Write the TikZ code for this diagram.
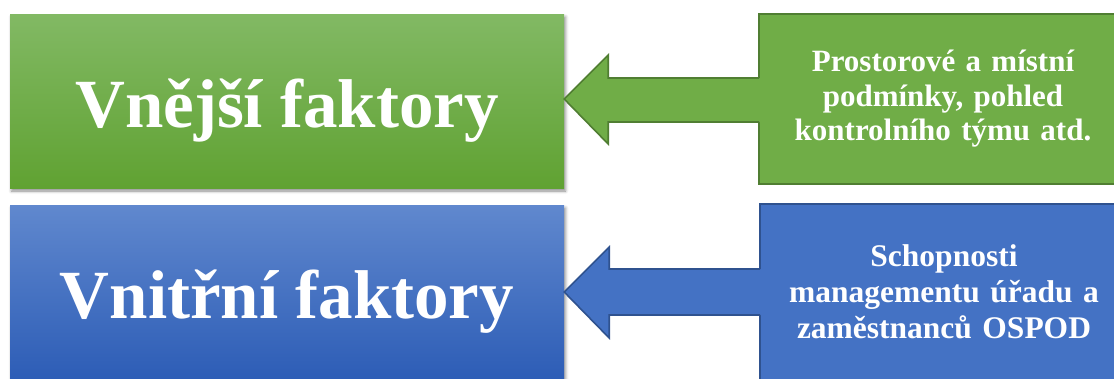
\documentclass[tikz,border=0pt]{standalone}
\usepackage{fontspec}
\setmainfont{Liberation Serif}
\usetikzlibrary{calc,shadows.blur}
\definecolor{gTop}{HTML}{82B964}
\definecolor{gBot}{HTML}{60A232}
\definecolor{gFill}{HTML}{70AD47}
\definecolor{gLine}{HTML}{507E32}
\definecolor{bTop}{HTML}{6088CE}
\definecolor{bBot}{HTML}{2D5DB6}
\definecolor{bFill}{HTML}{4472C4}
\definecolor{bLine}{HTML}{2F528F}
\tikzset{
  bigbox/.style={rectangle, inner sep=0pt, minimum width=554pt, minimum height=174pt,
    text=white, font=\fontsize{69}{80}\selectfont\bfseries, text height=52pt, text depth=0pt,
    blur shadow={shadow xshift=1.5pt, shadow yshift=-3pt, shadow blur radius=3pt, shadow opacity=45}},
  greenbig/.style={bigbox, top color=gTop, bottom color=gBot},
  bluebig/.style={bigbox, top color=bTop, bottom color=bBot},
  sidebox/.style={rectangle, inner sep=0pt, line width=2pt, minimum width=368pt,
    text=white, align=center, text width=340pt,
    font=\fontsize{31}{34.5}\selectfont\bfseries},
  greenside/.style={sidebox, fill=gFill, draw=gLine, minimum height=170pt},
  blueside/.style={sidebox, fill=bFill, draw=bLine, minimum height=176pt},
}
\begin{document}
\begin{tikzpicture}[x=1pt,y=-1pt]
\useasboundingbox (0,0) rectangle (1114,378);
\clip (0,0) rectangle (1114,378);
% left boxes
\node[greenbig] (vnejsi) at (287,101) {Vnější faktory};
\node[bluebig] (vnitrni) at (287,292) {Vnitřní faktory};
% right boxes
\node[greenside] (gright) at (943,99) {Prostorové a místní\\ podmínky, pohled\\ kontrolního týmu atd.};
\node[blueside, font=\fontsize{31.5}{36}\selectfont\bfseries] (bright) at (944,292) {Schopnosti\\ managementu úřadu a\\ zaměstnanců OSPOD};
% green block arrow
\coordinate (gtip) at (vnejsi.east |- gright.west);
\coordinate (gend) at ($(gright.west)+(2,0)$);
\fill[gFill] (gtip) -- ($(gtip)+(44,-44)$) -- ($(gtip)+(44,-21)$) -- ($(gend)+(0,-21)$)
  -- ($(gend)+(0,23)$) -- ($(gtip)+(44,23)$) -- ($(gtip)+(44,45)$) -- cycle;
\draw[gLine, line width=1.6pt, line join=miter] ($(gend)+(-1,-21)$) -- ($(gtip)+(44,-21)$) -- ($(gtip)+(44,-44)$) -- (gtip)
  -- ($(gtip)+(44,45)$) -- ($(gtip)+(44,23)$) -- ($(gend)+(-1,23)$);
% blue block arrow
\coordinate (btip) at (vnitrni.east |- bright.west);
\coordinate (bend) at ($(bright.west)+(2,0)$);
\fill[bFill] (btip) -- ($(btip)+(45,-45)$) -- ($(btip)+(45,-23)$) -- ($(bend)+(0,-23)$)
  -- ($(bend)+(0,23)$) -- ($(btip)+(45,23)$) -- ($(btip)+(45,46)$) -- cycle;
\draw[bLine, line width=1.6pt, line join=miter] ($(bend)+(-1,-23)$) -- ($(btip)+(45,-23)$) -- ($(btip)+(45,-45)$) -- (btip)
  -- ($(btip)+(45,46)$) -- ($(btip)+(45,23)$) -- ($(bend)+(-1,23)$);
\end{tikzpicture}
\end{document}
